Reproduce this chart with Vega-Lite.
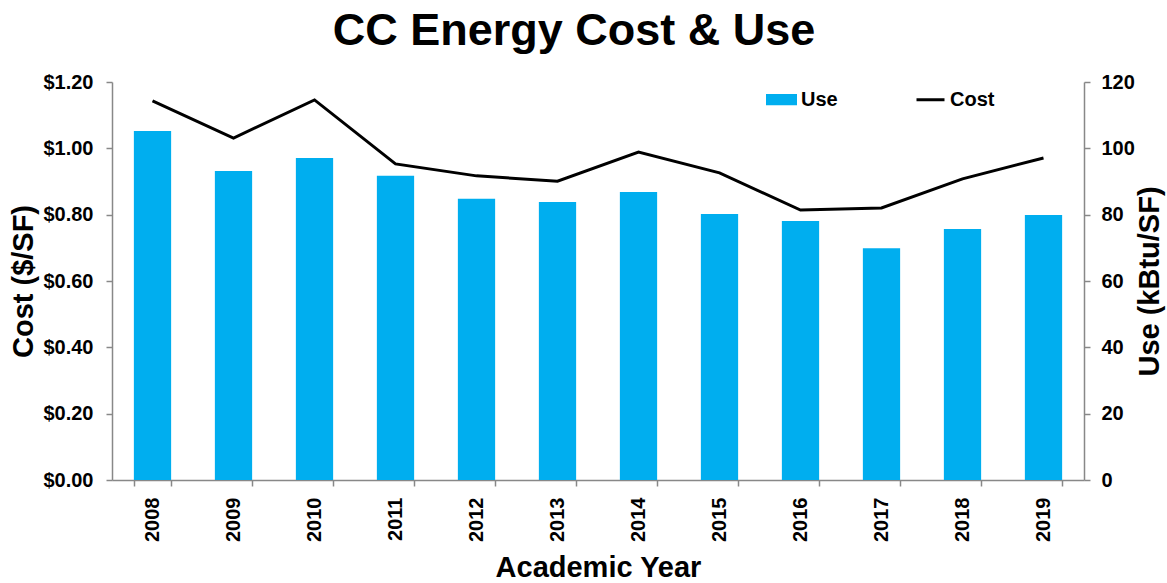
{
  "$schema": "https://vega.github.io/schema/vega-lite/v6.json",
  "width": 972,
  "height": 398,
  "autosize": {"type": "none"},
  "padding": {"left": 112, "top": 82, "right": 83, "bottom": 103},
  "background": "white",
  "title": {
    "text": "CC Energy Cost & Use",
    "fontSize": 45,
    "font": "Liberation Sans",
    "fontWeight": "bold",
    "color": "black",
    "anchor": "middle",
    "dx": -24,
    "offset": 18
  },
  "config": {
    "view": {"stroke": null},
    "font": "Liberation Sans",
    "axis": {
      "grid": false,
      "domainColor": "#888888",
      "domainWidth": 1.5,
      "tickColor": "#888888",
      "tickWidth": 1.5,
      "tickSize": 6,
      "labelFont": "Liberation Sans",
      "labelFontSize": 20,
      "labelFontWeight": "bold",
      "labelColor": "black",
      "titleFont": "Liberation Sans",
      "titleFontSize": 29,
      "titleFontWeight": "bold",
      "titleColor": "black"
    }
  },
  "data": {
    "values": [
      {"year": "2008", "Use": 105.2, "Cost": 1.143},
      {"year": "2009", "Use": 93.2, "Cost": 1.031},
      {"year": "2010", "Use": 97.1, "Cost": 1.146},
      {"year": "2011", "Use": 91.7, "Cost": 0.953},
      {"year": "2012", "Use": 84.8, "Cost": 0.917},
      {"year": "2013", "Use": 83.8, "Cost": 0.901},
      {"year": "2014", "Use": 86.8, "Cost": 0.989},
      {"year": "2015", "Use": 80.2, "Cost": 0.926},
      {"year": "2016", "Use": 78.1, "Cost": 0.814},
      {"year": "2017", "Use": 69.9, "Cost": 0.820},
      {"year": "2018", "Use": 75.7, "Cost": 0.908},
      {"year": "2019", "Use": 79.9, "Cost": 0.971}
    ]
  },
  "encoding": {
    "x": {
      "field": "year",
      "type": "nominal",
      "scale": {"paddingInner": 0.54, "paddingOuter": 0.27},
      "axis": {
        "title": "Academic Year",
        "labelAngle": -90,
        "labelAlign": "right",
        "labelBaseline": "middle",
        "labelPadding": 11,
        "tickBand": "extent",
        "titlePadding": 12
      }
    }
  },
  "layer": [
    {
      "mark": {"type": "bar", "color": "#00AEEF"},
      "encoding": {
        "y": {
          "field": "Use",
          "type": "quantitative",
          "scale": {"domain": [0, 120]},
          "axis": {
            "orient": "right",
            "title": "Use (kBtu/SF)",
            "titleAngle": 270,
            "values": [0, 20, 40, 60, 80, 100, 120],
            "labelPadding": 11,
            "titlePadding": 30
          }
        },
        "color": {
          "datum": "Use",
          "type": "nominal",
          "scale": {"domain": ["Use", "Cost"], "range": ["#00AEEF", "black"]},
          "legend": {
            "title": null,
            "orient": "none",
            "legendX": 654,
            "legendY": 2,
            "direction": "horizontal",
            "symbolSize": 784,
            "labelFontSize": 20,
            "labelFontWeight": "bold",
            "labelColor": "black",
            "labelOffset": 4,
            "columnPadding": 72,
            "encode": {
              "symbols": {
                "update": {
                  "shape": {"signal": "datum.value === 'Use' ? 'M-1,-0.3H1V0.3H-1Z' : 'M-1,0H1'"},
                  "fill": {"signal": "datum.value === 'Use' ? '#00AEEF' : 'transparent'"},
                  "stroke": {"signal": "datum.value === 'Use' ? 'transparent' : 'black'"},
                  "strokeWidth": {"value": 3}
                }
              }
            }
          }
        }
      }
    },
    {
      "mark": {"type": "line", "color": "black", "strokeWidth": 3},
      "encoding": {
        "y": {
          "field": "Cost",
          "type": "quantitative",
          "scale": {"domain": [0, 1.2]},
          "axis": {
            "orient": "left",
            "title": "Cost ($/SF)",
            "values": [0, 0.2, 0.4, 0.6, 0.8, 1.0, 1.2],
            "format": "$.2f",
            "labelPadding": 13,
            "titlePadding": 4
          }
        },
        "color": {"datum": "Cost", "type": "nominal"}
      }
    }
  ],
  "resolve": {"scale": {"y": "independent"}}
}
